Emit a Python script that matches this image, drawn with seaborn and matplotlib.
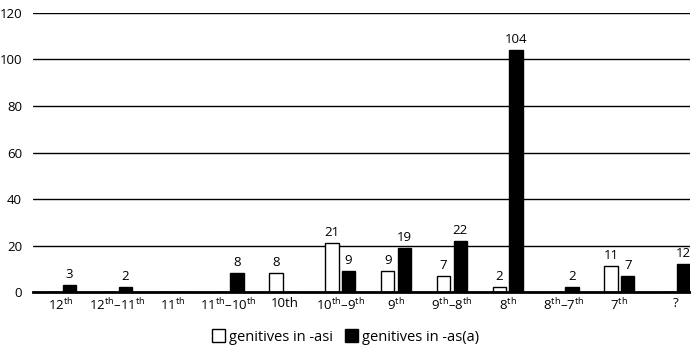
import matplotlib
matplotlib.use("Agg")
import matplotlib.pyplot as plt
import seaborn as sns
import pandas as pd
from matplotlib.patches import Patch

# data
centuries = [r"12$^{\rm th}$", r"12$^{\rm th}$–11$^{\rm th}$", r"11$^{\rm th}$",
             r"11$^{\rm th}$–10$^{\rm th}$", "10th", r"10$^{\rm th}$–9$^{\rm th}$",
             r"9$^{\rm th}$", r"9$^{\rm th}$–8$^{\rm th}$", r"8$^{\rm th}$",
             r"8$^{\rm th}$–7$^{\rm th}$", r"7$^{\rm th}$", "?"]
asi = [0, 0, 0, 0, 8, 21, 9, 7, 2, 0, 11, 0]
asa = [3, 2, 0, 8, 0, 9, 19, 22, 104, 2, 7, 12]
series = ["genitives in -asi", "genitives in -as(a)"]

df = pd.DataFrame({
    "century": centuries * 2,
    "count": asi + asa,
    "series": [series[0]] * len(asi) + [series[1]] * len(asa),
})

sns.set_style("white")
plt.rcParams["font.family"] = ["Open Sans", "DejaVu Sans"]
plt.rcParams["mathtext.fontset"] = "custom"
plt.rcParams["mathtext.rm"] = "Open Sans"
plt.rcParams["mathtext.default"] = "regular"
plt.rcParams["text.color"] = "black"

fig = plt.figure(figsize=(6.91, 3.51), dpi=100)
ax = fig.add_axes([0.048, 0.168, 0.951, 0.795])

sns.barplot(data=df, x="century", y="count", hue="series", order=centuries,
            hue_order=series, palette=["white", "black"], edgecolor="black",
            linewidth=1, width=0.6, gap=0.2, ax=ax, legend=False)

for cont in ax.containers:
    labels = [str(int(v)) if v > 0 else "" for v in cont.datavalues]
    ax.bar_label(cont, labels=labels, padding=3, fontsize=9.5, color="black")

ax.set_ylim(0, 120)
ax.set_yticks(range(0, 121, 20))
ax.set_xlim(-0.5, 11.27)
ax.yaxis.grid(True, color="black", linewidth=1)
ax.set_axisbelow(True)
for s in ["top", "right", "left"]:
    ax.spines[s].set_visible(False)
ax.spines["bottom"].set_linewidth(2)
ax.spines["bottom"].set_color("black")
ax.tick_params(axis="both", length=0, labelsize=9.5, colors="black")
ax.tick_params(axis="y", pad=8)
ax.set_xlabel("")
ax.set_ylabel("")

handles = [Patch(facecolor="white", edgecolor="black", label=series[0]),
           Patch(facecolor="black", edgecolor="black", label=series[1])]
fig.legend(handles=handles, loc="center", bbox_to_anchor=(0.5, 0.04), ncol=2,
           frameon=False, fontsize=10.5, handlelength=0.9, handleheight=0.9,
           handletextpad=0.3, columnspacing=0.8)

fig.savefig("out.png", dpi=100)
